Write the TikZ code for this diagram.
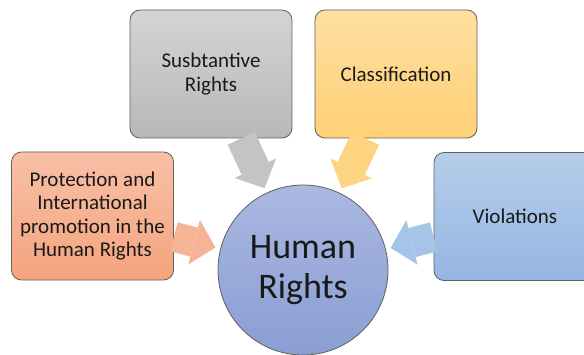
\documentclass[tikz,border=0pt]{standalone}
\usepackage{fontspec}
\setmainfont{Carlito}
\usetikzlibrary{arrows.meta}
\definecolor{boxline}{RGB}{95,95,95}
\definecolor{protTop}{RGB}{248,192,167}
\definecolor{protBot}{RGB}{244,164,126}
\definecolor{protArr}{RGB}{246,180,150}
\definecolor{substTop}{RGB}{212,212,212}
\definecolor{substBot}{RGB}{184,184,184}
\definecolor{substArr}{RGB}{196,196,196}
\definecolor{classTop}{RGB}{255,223,160}
\definecolor{classBot}{RGB}{255,208,118}
\definecolor{classArr}{RGB}{255,212,128}
\definecolor{violTop}{RGB}{182,205,234}
\definecolor{violBot}{RGB}{148,182,227}
\definecolor{violArr}{RGB}{166,196,232}
\definecolor{hrTop}{RGB}{170,184,225}
\definecolor{hrBot}{RGB}{138,158,212}
\begin{document}
\begin{tikzpicture}[x=1pt,y=1pt]
\tikzstyle{every node}+=[inner sep=0pt, text=black!90]
\tikzstyle{box}=[draw=boxline, line width=0.8pt, rounded corners=10pt, minimum width=162pt, minimum height=128pt, align=center, font=\fontsize{21}{23.5}\selectfont]
\tikzstyle{blockarrow}=[line width=30pt, -{Triangle[length=22pt,width=46pt,line width=0pt]}, shorten >=5pt]
\useasboundingbox (0,0) rectangle (584,354);

\node [box, top color=protTop, bottom color=protBot] (prot) at (92.5,138) {Protection and\\International\\promotion in the\\Human Rights};
\node [box, top color=substTop, bottom color=substBot] (subst) at (211,280) {Susbtantive\\Rights};
\node [box, top color=classTop, bottom color=classBot] (class) at (396,280) {Classification};
\node [box, top color=violTop, bottom color=violBot] (viol) at (515,137.5) {Violations};
\node [circle, draw=boxline, line width=0.8pt, minimum size=170pt, top color=hrTop, bottom color=hrBot, align=center, font=\fontsize{36}{40}\selectfont] (hr) at (303,84) {Human\\Rights};

\draw [blockarrow, draw=protArr] (prot) -- (hr);
\draw [blockarrow, draw=substArr] (subst) -- (hr);
\draw [blockarrow, draw=classArr] (class) -- (hr);
\draw [blockarrow, draw=violArr] (viol) -- (hr);
\end{tikzpicture}
\end{document}
